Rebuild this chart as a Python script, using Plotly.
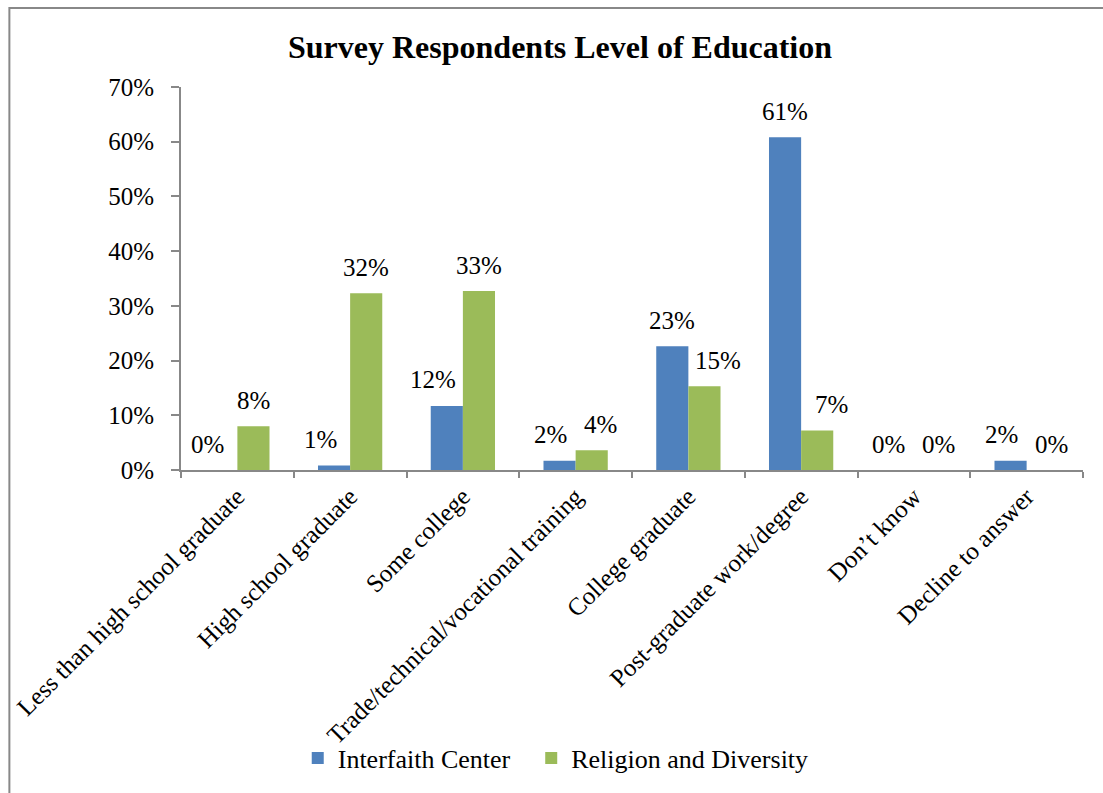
import plotly.graph_objects as go

categories = ["Less than high school graduate", "High school graduate", "Some college",
              "Trade/technical/vocational training", "College graduate",
              "Post-graduate work/degree", "Don\u2019t know", "Decline to answer"]
interfaith = [0.0, 0.8, 11.7, 1.7, 22.6, 60.8, 0.0, 1.7]
religion = [8.0, 32.3, 32.7, 3.6, 15.3, 7.2, 0.0, 0.0]

FONT = "Liberation Serif"
BLUE, GREEN = "#4F81BD", "#9BBB59"

L, R, T, B = 179, 20, 87, 323
W, H = 1103, 793
pw, ph = W - L - R, H - T - B

fig = go.Figure()
fig.add_trace(go.Bar(name="Interfaith Center", x=categories, y=interfaith,
                     marker=dict(color=BLUE, line=dict(width=0)), legend="legend"))
fig.add_trace(go.Bar(name="Religion and Diversity", x=categories, y=religion,
                     marker=dict(color=GREEN, line=dict(width=0)), legend="legend2"))

# data labels, nudged sideways (like Excel) when they would collide
annotations = []
bar_off = 16
for cat, a, b in zip(categories, interfaith, religion):
    for val, other, sign in ((a, b, -1), (b, a, 1)):
        d = other - val
        if abs(d) <= 2.5:
            nudge = 9
        elif d > 0:
            nudge = 14
        else:
            nudge = 0
        annotations.append(dict(
            x=cat, y=val, xref="x", yref="y", text=f"{val:.0f}%", showarrow=False,
            xshift=sign * (bar_off + nudge), yshift=26, yanchor="middle",
            xanchor="center", font=dict(family=FONT, size=25, color="#000")))

fig.update_layout(
    width=W, height=H,
    margin=dict(l=L, r=R, t=T, b=B),
    paper_bgcolor="white", plot_bgcolor="white",
    barmode="group", bargap=0.43, bargroupgap=0,
    font=dict(family=FONT, size=25, color="#000"),
    title=dict(text="<b>Survey Respondents Level of Education</b>",
               font=dict(family=FONT, size=32, color="#000"),
               xref="container", x=560 / W, xanchor="center",
               yref="container", y=1 - 47 / H, yanchor="middle"),
    showlegend=True,
    legend=dict(orientation="h", xref="paper", x=(296 - L) / pw, xanchor="left",
                yref="paper", y=(H - B - 758) / ph, yanchor="middle",
                bgcolor="rgba(0,0,0,0)",
                font=dict(family=FONT, size=26, color="#000"), itemwidth=30),
    legend2=dict(orientation="h", xref="paper", x=(530 - L) / pw, xanchor="left",
                 yref="paper", y=(H - B - 758) / ph, yanchor="middle",
                 bgcolor="rgba(0,0,0,0)",
                 font=dict(family=FONT, size=26, color="#000"), itemwidth=30),
    xaxis=dict(tickangle=-45, showline=True, linecolor="#888", linewidth=2,
               ticks="outside", tickson="boundaries", ticklen=6, tickcolor="#888",
               tickwidth=2, showgrid=False,
               tickfont=dict(family=FONT, size=25, color="#000")),
    yaxis=dict(range=[0, 70], dtick=10, ticksuffix="%", showline=True,
               linecolor="#888", linewidth=2, ticks="outside", ticklen=8,
               tickcolor="#888", tickwidth=2, showgrid=False, zeroline=False,
               ticklabelstandoff=12,
               tickfont=dict(family=FONT, size=25, color="#000")),
    annotations=annotations,
    shapes=[dict(type="rect", xref="paper", yref="paper",
                 x0=(7 - L) / pw, x1=2.0, y0=-2.0, y1=(H - B - 8) / ph,
                 line=dict(color="#888", width=2), fillcolor="rgba(0,0,0,0)",
                 layer="below")],
)

fig.write_html("out.html")
